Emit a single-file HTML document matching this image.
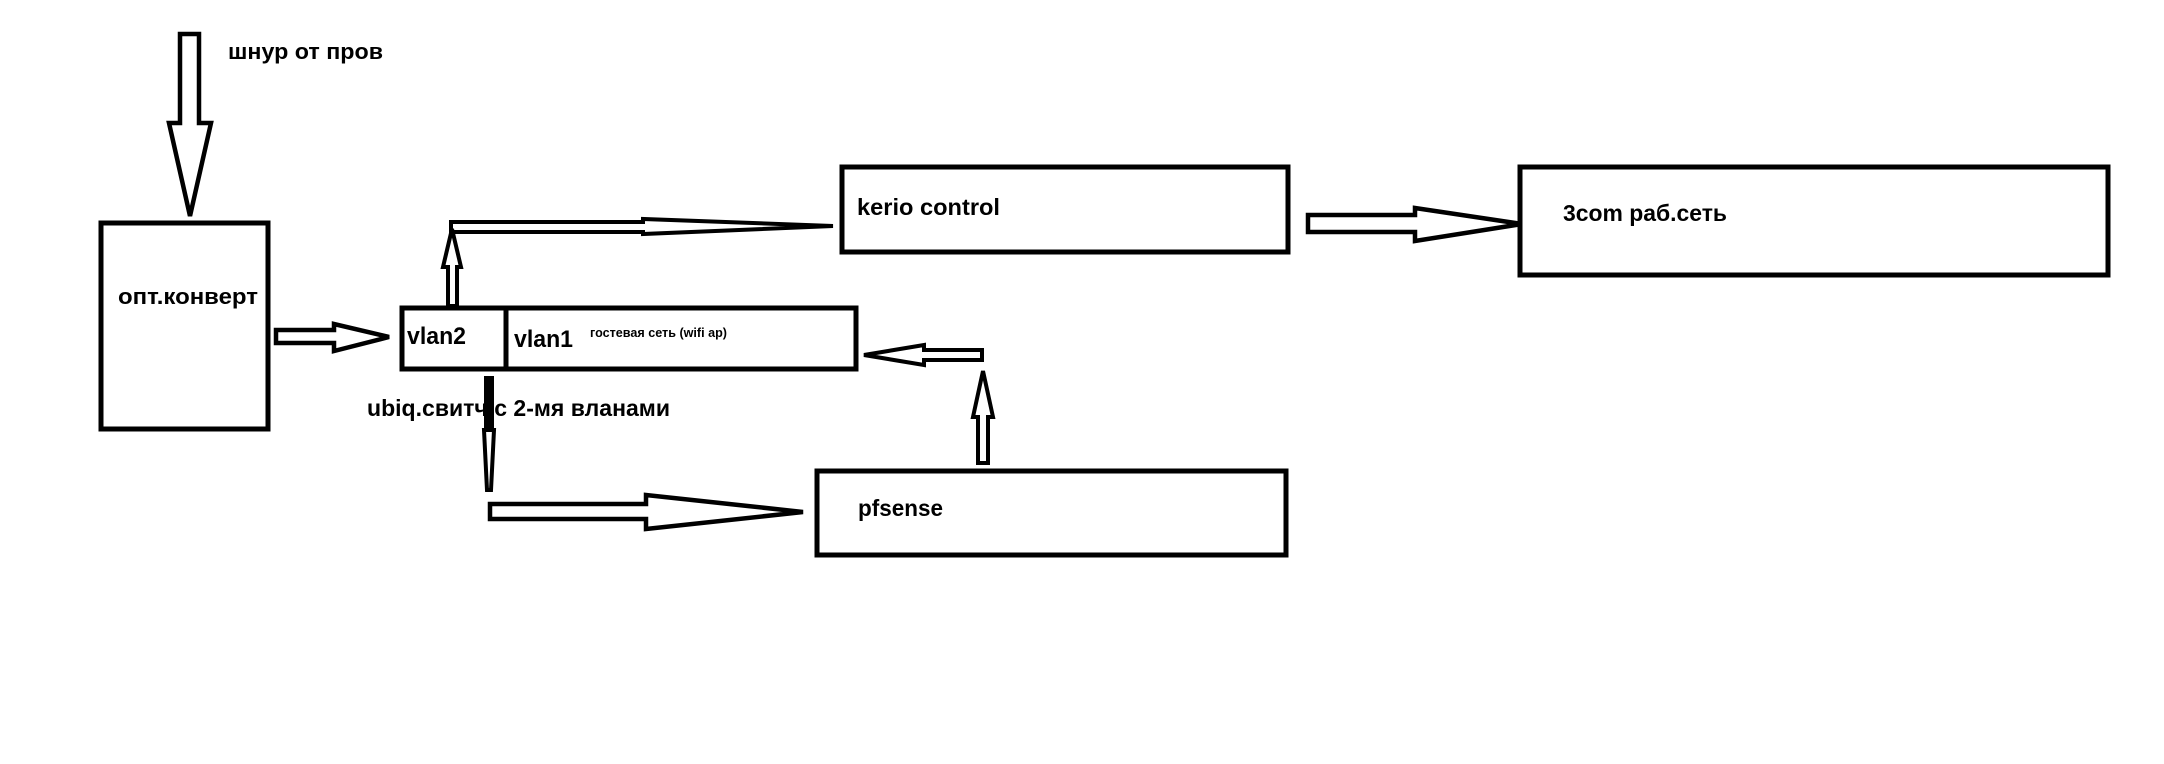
<!DOCTYPE html>
<html><head><meta charset="utf-8"><style>
html,body{margin:0;padding:0;background:#fff;}
svg{display:block;}
text{font-family:"Liberation Sans","DejaVu Sans",sans-serif;font-weight:bold;fill:#000;}
</style></head><body>
<svg width="2164" height="764" viewBox="0 0 2164 764" xmlns="http://www.w3.org/2000/svg">
<rect width="2164" height="764" fill="#fff"/>
<g fill="#fff" stroke="#000" stroke-width="5" stroke-linejoin="miter">
<!-- top arrow -->
<polygon points="180,34 199,34 199,123 211,123 190,216 169,123 180,123" stroke-width="4.5"/>
<!-- boxes -->
<rect x="101" y="223" width="167" height="206"/>
<rect x="402" y="308" width="454" height="61"/>
<line x1="506" y1="306" x2="506" y2="370"/>
<rect x="842" y="167" width="446" height="85"/>
<rect x="1520" y="167" width="588" height="108"/>
<rect x="817" y="471" width="469" height="84"/>
<!-- opt -> vlan arrow -->
<polygon points="276,330 334,330 334,324 389,337 334,351 334,343 276,343" stroke-width="4.5"/>
<!-- kerio -> 3com -->
<polygon points="1308,215 1415,215 1415,208 1522,224 1415,241 1415,232 1308,232" stroke-width="4.5"/>
<!-- pfsense arrow -->
<polygon points="490,504 646,504 646,495 803,512 646,529 646,519 490,519" stroke-width="4.5"/>
<!-- pfsense up -->
<polygon points="978,463 978,417 973,417 983,371 993,417 988,417 988,463" stroke-width="4"/>
<!-- left arrow to switch -->
<polygon points="982,350 924,350 924,345 864,355 924,365 924,360 982,360" stroke-width="4"/>
<!-- kerio -> vlan2 -->
<polygon points="833,226 643,219 643,222 451,222 451,232 643,232 643,234" stroke-width="4"/>
<polygon points="448,306 448,267 443,267 452,229 461,267 457,267 457,306" stroke-width="4"/>
</g>
<!-- down thick line -->
<line x1="489" y1="376" x2="489" y2="432" stroke="#000" stroke-width="10"/>
<polygon points="484,430 494,430 491,490 487,490" fill="#fff" stroke="#000" stroke-width="4"/>
<!-- texts -->
<text x="228" y="59" font-size="22" textLength="155" lengthAdjust="spacingAndGlyphs">шнур от пров</text>
<text x="118" y="304" font-size="22" textLength="140" lengthAdjust="spacingAndGlyphs">опт.конверт</text>
<text x="407" y="344" font-size="24" textLength="59" lengthAdjust="spacingAndGlyphs">vlan2</text>
<text x="514" y="347" font-size="24" textLength="59" lengthAdjust="spacingAndGlyphs">vlan1</text>
<text x="590" y="337" font-size="13" textLength="137" lengthAdjust="spacingAndGlyphs">гостевая сеть (wifi ap)</text>
<text x="367" y="416" font-size="23" textLength="303" lengthAdjust="spacingAndGlyphs">ubiq.свитч с 2-мя вланами</text>
<text x="857" y="215" font-size="23" textLength="143" lengthAdjust="spacingAndGlyphs">kerio control</text>
<text x="1563" y="221" font-size="23" textLength="164" lengthAdjust="spacingAndGlyphs">3com раб.сеть</text>
<text x="858" y="516" font-size="23" textLength="85" lengthAdjust="spacingAndGlyphs">pfsense</text>
</svg>
</body></html>
